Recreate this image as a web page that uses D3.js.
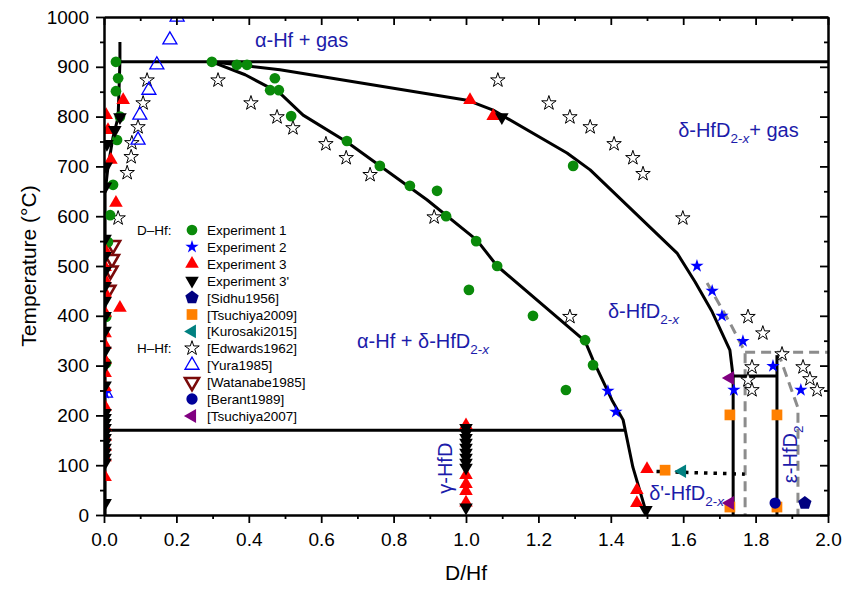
<!DOCTYPE html>
<html>
<head>
<meta charset="utf-8">
<script src="https://cdn.jsdelivr.net/npm/d3@7"></script>
<style>
  body { margin: 0; background: #fff; }
  text { font-family: "Liberation Sans", Arial, sans-serif; }
</style>
</head>
<body>
<script>
"use strict";

// ---- data: [D/Hf, temperature °C] ----
let exp1 = [[0.033,910],[0.039,877],[0.033,851],[0.044,800],[0.036,753],[0.025,663],[0.017,602],[0.011,548],[0.006,398],[0.006,305],
  [0.298,910],[0.367,904],[0.395,904],[0.472,877],[0.459,853],[0.483,853],[0.517,801],[0.671,751],[0.762,701],[0.845,661],
  [0.92,651],[0.945,600],[1.028,550],[1.086,500],[1.008,452],[1.185,400],[1.329,351],[1.351,301],[1.276,251],[1.296,701]];
let exp2 = [[1.638,500],[1.680,450],[1.707,400],[1.765,349],[1.848,299],[1.740,251],[1.925,251],[1.392,249],[1.414,207],[0.003,245]];
let exp3 = [[1.011,833],[1.075,801],[1.5,92],[1.472,50],[1.472,24],
  [1.0,180],[1.0,80],[1.0,62],[1.0,48],[1.0,25],
  [0.053,833],[0.006,803],[0.011,773],[0.019,713],[0.033,627],[0.044,416],
  [0.003,532],[0.003,498],[0.003,472],[0.003,446],[0.003,406],[0.003,365],[0.003,341],[0.003,311],[0.003,285],
  [0.003,257],[0.003,217],[0.003,177],[0.003,157],[0.003,137],[0.003,116],[0.003,76]];
let exp3p = [[1.099,799],[1.497,10],
  [1.0,175],[1.0,165],[1.0,155],[1.0,145],[1.0,135],[1.0,125],[1.0,115],[1.0,105],[1.0,95],[1.0,15],
  [0.044,799],[0.030,773],[0.008,745],[0.006,700],[0.004,660],
  [0.003,555],[0.003,520],[0.003,490],[0.003,460],[0.003,430],[0.003,400],[0.003,370],[0.003,330],[0.003,300],[0.003,260],
  [0.003,205],[0.003,195],[0.003,185],[0.003,175],[0.003,165],[0.003,155],[0.003,145],[0.003,135],[0.003,125],[0.003,115],[0.003,105],[0.003,24]];
let sidhu1956 = [[1.936,24]];
let tsuchiya2009 = [[1.55,90],[1.729,201],[1.859,201],[1.729,16],[1.859,16]];
let kurosaki2015 = [[1.597,88]];
let edwards1962 = [[0.119,873],[0.108,827],[0.094,779],[0.077,747],[0.075,719],[0.064,687],[0.039,596],
  [0.315,873],[0.406,827],[0.478,799],[0.522,777],[0.613,745],[0.669,717],[0.735,683],[0.912,598],
  [1.088,873],[1.229,827],[1.287,799],[1.343,779],[1.409,745],[1.461,717],[1.489,685],[1.599,596],[1.287,398],
  [1.779,398],[1.820,365],[1.873,323],[1.790,297],[1.779,271],[1.790,251],[1.931,297],[1.950,273],[1.970,251]];
let yura1985 = [[0.202,1000],[0.182,954],[0.146,904],[0.124,853],[0.099,803],[0.094,753],[0.004,245]];
let watanabe1985 = [[0.025,542],[0.022,514],[0.018,491],[0.012,452]];
let berant1989 = [[1.854,24]];
let tsuchiya2007 = [[1.729,275],[1.729,24]];

// ---- phase boundaries ----
let alphaSolvus = [[0.044,950],[0.044,910],[0.039,799],[0.025,759],[0.011,699],[0.003,647],[0.003,0]];
let upperBoundary = [[0.298,910],[0.486,894],[1.003,833],[1.075,813],[1.279,727],[1.343,693],[1.508,578],[1.583,526],
  [1.633,468],[1.680,408],[1.729,331],[1.738,277],[1.738,0]];
let lowerBoundary = [[0.298,910],[0.390,884],[0.486,847],[0.550,803],[0.671,749],[0.892,633],[1.030,552],[1.086,500],
  [1.329,349],[1.351,311],[1.403,231],[1.434,191],[1.461,96],[1.5,0]];
let iso910 = [[0.044,910],[2.0,910]];
let iso170 = [[0.0,170],[1.44,170]];
let epsTop = [[1.738,279],[1.859,279]];
let epsRight = [[1.859,0],[1.859,321]];
let dottedLine = [[1.5,88],[1.77,82]];
let dashedLines = [
  [[1.666,466],[1.729,386],[1.771,327],[1.771,0]],
  [[1.771,327],[2.0,327]],
  [[1.862,327],[1.917,215],[1.917,0]]
];

let xTicks = [0,0.2,0.4,0.6,0.8,1.0,1.2,1.4,1.6,1.8,2.0];
let xMinor = [0.1,0.3,0.5,0.7,0.9,1.1,1.3,1.5,1.7,1.9];
let yTicks = [0,100,200,300,400,500,600,700,800,900,1000];
let yMinor = [50,150,250,350,450,550,650,750,850,950];

let legendNames = ["Experiment 1","Experiment 2","Experiment 3","Experiment 3'","[Sidhu1956]","[Tsuchiya2009]",
  "[Kurosaki2015]","[Edwards1962]","[Yura1985]","[Watanabe1985]","[Berant1989]","[Tsuchiya2007]"];

let width = 845, height = 590;
let svg = d3.select("body").append("svg").attr("width", width).attr("height", height);

let x = d3.scaleLinear().domain([0, 2]).range([104, 828]);
let y = d3.scaleLinear().domain([0, 1000]).range([515, 17]);

svg.append("defs").append("clipPath").attr("id", "plot")
  .append("rect").attr("x", 104).attr("y", 17).attr("width", 724).attr("height", 498);

let line = d3.line().x(d => x(d[0])).y(d => y(d[1]));
let g = svg.append("g").attr("clip-path", "url(#plot)");

// dashed grey boundaries
dashedLines.forEach(function (pts) {
  g.append("path").attr("d", line(pts)).attr("fill", "none")
    .attr("stroke", "#8c8c8c").attr("stroke-width", 3).attr("stroke-dasharray", "10,6");
});

[alphaSolvus, upperBoundary, lowerBoundary, iso910, iso170, epsTop, epsRight].forEach(function (pts) {
  g.append("path").attr("d", line(pts)).attr("fill", "none")
    .attr("stroke", "#000").attr("stroke-width", 3).attr("stroke-linejoin", "round");
});
g.append("path").attr("d", line(dottedLine)).attr("fill", "none")
  .attr("stroke", "#000").attr("stroke-width", 3.5).attr("stroke-dasharray", "3.5,6");

// marker styles
let pentagon = function (r) {
  let p = d3.range(5).map(k => {
    let a = -Math.PI / 2 + k * 2 * Math.PI / 5;
    return [r * Math.cos(a), r * Math.sin(a)];
  });
  return "M" + p.join("L") + "Z";
};
let styles = [
  { data: exp1, type: d3.symbolCircle, size: 90, rot: 0, fill: "#0a8a0a", stroke: "none" },
  { data: exp2, type: d3.symbolStar, size: 55, rot: 0, fill: "#0000ff", stroke: "none" },
  { data: exp3, type: d3.symbolTriangle, size: 80, rot: 0, fill: "#ff0000", stroke: "none" },
  { data: exp3p, type: d3.symbolTriangle, size: 80, rot: 180, fill: "#000", stroke: "none" },
  { data: sidhu1956, pent: 7, rot: 0, fill: "#000080", stroke: "none" },
  { data: tsuchiya2009, type: d3.symbolSquare, size: 115, rot: 0, fill: "#ff8000", stroke: "none" },
  { data: kurosaki2015, type: d3.symbolTriangle, size: 80, rot: -90, fill: "#008080", stroke: "none" },
  { data: edwards1962, type: d3.symbolStar, size: 65, rot: 0, fill: "#fff", stroke: "#000", sw: 1 },
  { data: yura1985, type: d3.symbolTriangle, size: 85, rot: 0, fill: "none", stroke: "#0000ff", sw: 1.3 },
  { data: watanabe1985, type: d3.symbolTriangle, size: 85, rot: 180, fill: "#fff", stroke: "#7a0a0a", sw: 2.6 },
  { data: berant1989, type: d3.symbolCircle, size: 100, rot: 0, fill: "#00009a", stroke: "none" },
  { data: tsuchiya2007, type: d3.symbolTriangle, size: 85, rot: -90, fill: "#800080", stroke: "none" }
];
let markerPath = s => s.pent ? pentagon(s.pent) : d3.symbol().type(s.type).size(s.size)();

let order = [7, 8, 9, 0, 1, 2, 3, 4, 5, 6, 10, 11];
order.forEach(function (i) {
  let s = styles[i];
  g.append("g").selectAll("path")
    .data(s.data)
    .enter()
    .append("path")
    .attr("d", markerPath(s))
    .attr("transform", d => "translate(" + x(d[0]) + "," + y(d[1]) + ") rotate(" + s.rot + ")")
    .attr("fill", s.fill)
    .attr("stroke", s.stroke)
    .attr("stroke-width", s.sw || 0);
});

// axes
let styleAxis = function (sel) {
  sel.selectAll("path.domain").attr("stroke-width", 2);
  sel.selectAll(".tick line").attr("stroke-width", 1.8);
  sel.selectAll(".tick text").attr("font-size", 19).attr("fill", "#000")
    .attr("font-family", "'Liberation Sans', Arial, sans-serif");
};
svg.append("g").attr("transform", "translate(0,515)")
  .call(d3.axisBottom(x).tickValues(xTicks).tickFormat(d3.format(".1f")).tickSize(8).tickSizeOuter(0).tickPadding(10)).call(styleAxis);
svg.append("g").attr("transform", "translate(0,515)")
  .call(d3.axisBottom(x).tickValues(xMinor).tickFormat("").tickSize(4).tickSizeOuter(0)).call(styleAxis);
svg.append("g").attr("transform", "translate(104,0)")
  .call(d3.axisLeft(y).tickValues(yTicks).tickFormat(d3.format("d")).tickSize(8).tickSizeOuter(0).tickPadding(7)).call(styleAxis);
svg.append("g").attr("transform", "translate(104,0)")
  .call(d3.axisLeft(y).tickValues(yMinor).tickFormat("").tickSize(4).tickSizeOuter(0)).call(styleAxis);
svg.append("g").attr("transform", "translate(0,17)")
  .call(d3.axisTop(x).tickValues(xTicks).tickFormat("").tickSize(-8).tickSizeOuter(0)).call(styleAxis);
svg.append("g").attr("transform", "translate(0,17)")
  .call(d3.axisTop(x).tickValues(xMinor).tickFormat("").tickSize(-4).tickSizeOuter(0)).call(styleAxis);
svg.append("g").attr("transform", "translate(828,0)")
  .call(d3.axisRight(y).tickValues(yTicks).tickFormat("").tickSize(-8).tickSizeOuter(0)).call(styleAxis);
svg.append("g").attr("transform", "translate(828,0)")
  .call(d3.axisRight(y).tickValues(yMinor).tickFormat("").tickSize(-4).tickSizeOuter(0)).call(styleAxis);

svg.append("text").attr("transform", "translate(36,266) rotate(-90)")
  .attr("text-anchor", "middle").attr("font-size", 21).text("Temperature (°C)");
svg.append("text").attr("x", 466).attr("y", 580)
  .attr("text-anchor", "middle").attr("font-size", 21).text("D/Hf");

// phase labels (data coordinates)
let blue = "#1c1caa";
let phaseLabels = [
  { at: [0.417, 940], main: "α-Hf + gas" },
  { at: [1.586, 759], main: "δ-HfD", sub: "2-", subIt: "x", tail: "+ gas" },
  { at: [1.392, 396], main: "δ-HfD", sub: "2-", subIt: "x" },
  { at: [0.699, 335], main: "α-Hf + δ-HfD", sub: "2-", subIt: "x" },
  { at: [0.961, 94], main: "γ-HfD", rot: true, anchor: "middle" },
  { at: [1.506, 30], main: "δ'-HfD", sub: "2-", subIt: "x" },
  { at: [1.914, 64], main: "ε-HfD", sub: "2", rot: true }
];
phaseLabels.forEach(function (l) {
  let t = svg.append("text")
    .attr("transform", "translate(" + x(l.at[0]) + "," + y(l.at[1]) + ")" + (l.rot ? " rotate(-90)" : ""))
    .attr("text-anchor", l.anchor || "start")
    .attr("font-size", 20).attr("fill", blue);
  t.append("tspan").text(l.main);
  if (l.sub) {
    let s = t.append("tspan").attr("font-size", 13.5).attr("dy", 6).text(l.sub);
    if (l.subIt) s.append("tspan").attr("font-style", "italic").text(l.subIt);
  }
  if (l.tail) t.append("tspan").attr("dy", -6).text(l.tail);
});

// legend
let leg = svg.append("g");
let rowY = i => 230 + i * 16.9;
leg.append("text").attr("x", 137).attr("y", rowY(0) + 5).attr("font-size", 13.5).text("D–Hf:");
leg.append("text").attr("x", 137).attr("y", rowY(7) + 5).attr("font-size", 13.5).text("H–Hf:");
legendNames.forEach(function (name, i) {
  let s = styles[i];
  leg.append("path").attr("d", markerPath(s))
    .attr("transform", "translate(192," + rowY(i) + ") rotate(" + s.rot + ")")
    .attr("fill", s.fill).attr("stroke", s.stroke).attr("stroke-width", s.sw || 0);
  leg.append("text").attr("x", 207).attr("y", rowY(i) + 5).attr("font-size", 13.5).text(name);
});
</script>
</body>
</html>
